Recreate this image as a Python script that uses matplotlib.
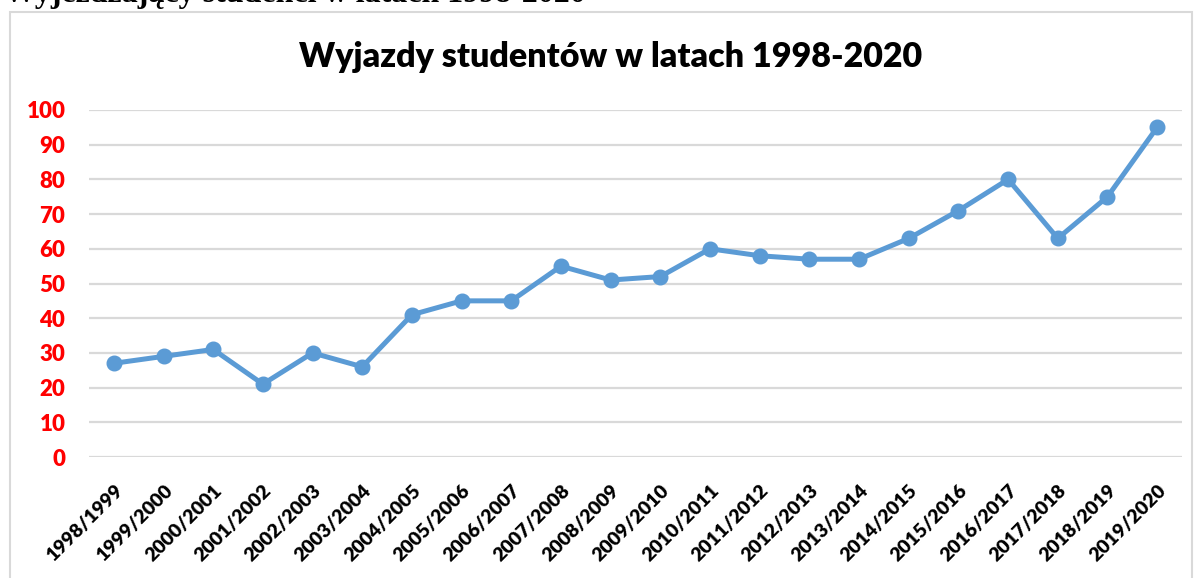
import matplotlib.pyplot as plt
from matplotlib.patches import Rectangle

seasons = ['1998/1999', '1999/2000', '2000/2001', '2001/2002', '2002/2003', '2003/2004',
           '2004/2005', '2005/2006', '2006/2007', '2007/2008', '2008/2009', '2009/2010',
           '2010/2011', '2011/2012', '2012/2013', '2013/2014', '2014/2015', '2015/2016',
           '2016/2017', '2017/2018', '2018/2019', '2019/2020']
trips = [27, 29, 31, 21, 30, 26, 41, 45, 45, 55, 51, 52, 60, 58, 57, 57, 63, 71, 80, 63, 75, 95]
y_ticks = [0, 10, 20, 30, 40, 50, 60, 70, 80, 90, 100]

W, H = 1197, 578
fig = plt.figure(figsize=(W / 100, H / 100), dpi=100)

# chart frame (Excel style box)
fig.patches.append(Rectangle((10 / W, -0.01), (1192 - 10) / W, 1 - 12 / H + 0.01,
                             transform=fig.transFigure, fill=False,
                             edgecolor='#D9D9D9', linewidth=1.5))

# caption above the chart, cut off at the top
fig.text(4 / W, 1 - 2 / H, 'Wyjeżdżający studenci w latach 1998-2020',
         family='Liberation Serif', weight='bold', fontsize=23, va='baseline', ha='left')

fig.text(611 / W, 1 - 57 / H, 'Wyjazdy studentów w latach 1998-2020',
         family='Lato', weight='heavy', fontsize=24.5, ha='center', va='center')

ax = fig.add_axes([89 / W, 1 - 457 / H, (1182 - 89) / W, (457 - 110) / H])
x = list(range(len(seasons)))
ax.plot(x, trips, color='#5B9BD5', linewidth=3.6, marker='o', markersize=10.5,
        solid_capstyle='round', solid_joinstyle='round', zorder=3)

ax.set_xlim(-0.5, len(seasons) - 0.5)
ax.set_ylim(0, 100)
ax.set_yticks(y_ticks)
ax.set_xticks(x)
ax.set_xticklabels(seasons, rotation=45, ha='right', rotation_mode='anchor',
                   family='Lato', weight='heavy', fontsize=14)
for lab in ax.get_yticklabels():
    lab.set_family('Lato')
    lab.set_weight('heavy')
    lab.set_fontsize(16)
    lab.set_color('#FF0000')

ax.grid(axis='y', color='#D9D9D9', linewidth=1.6)
ax.set_axisbelow(True)
ax.tick_params(axis='both', length=0)
ax.tick_params(axis='y', pad=17)
ax.tick_params(axis='x', pad=18)
for s in ax.spines.values():
    s.set_visible(False)

fig.savefig('out.png', dpi=100)
